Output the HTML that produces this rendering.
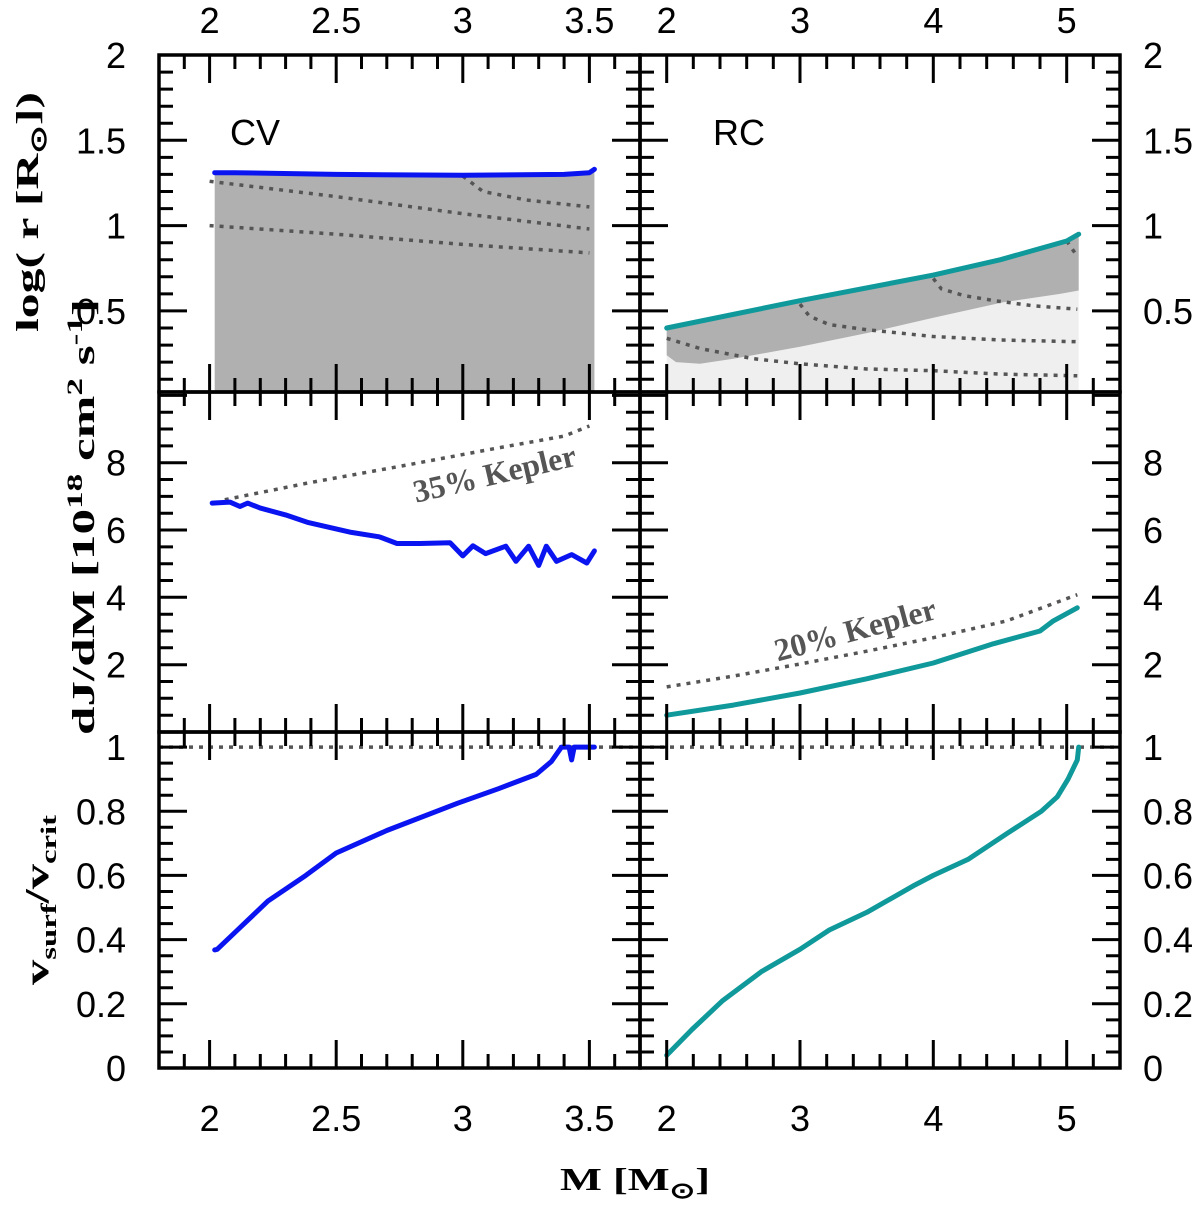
<!DOCTYPE html>
<html><head><meta charset="utf-8">
<style>
html,body{margin:0;padding:0;background:#fff;}
svg{display:block;}
.tl{font-family:"Liberation Sans",sans-serif;font-size:36px;fill:#000;}
.ti{font-family:"Liberation Serif",serif;font-weight:bold;fill:#000;}
</style></head>
<body>
<svg id="fig" width="1200" height="1205" viewBox="0 0 1200 1205" xmlns="http://www.w3.org/2000/svg">
<rect width="1200" height="1205" fill="#fff"/>
<g id="plots"></g>
<g id="frames"></g>
<text class="ti" transform="translate(38,212) rotate(-90)" text-anchor="middle" font-size="32" textLength="240" lengthAdjust="spacingAndGlyphs">log( r [R<tspan font-size="22" dy="8">⊙</tspan><tspan dy="-8">])</tspan></text>
<text class="ti" transform="translate(94,517) rotate(-90)" text-anchor="middle" font-size="32" textLength="436" lengthAdjust="spacingAndGlyphs">dJ/dM [10<tspan font-size="22" dy="-12">18</tspan><tspan dy="12"> cm</tspan><tspan font-size="22" dy="-12">2</tspan><tspan dy="12"> s</tspan><tspan font-size="22" dy="-12">-1</tspan><tspan dy="12">]</tspan></text>
<text class="ti" transform="translate(48,900) rotate(-90)" text-anchor="middle" font-size="34" textLength="170" lengthAdjust="spacingAndGlyphs">v<tspan font-size="22" dy="8">surf</tspan><tspan dy="-8">/v</tspan><tspan font-size="22" dy="8">crit</tspan></text>
<text class="ti" x="635" y="1190" text-anchor="middle" font-size="32" textLength="150" lengthAdjust="spacingAndGlyphs">M [M<tspan font-size="22" dy="8">⊙</tspan><tspan dy="-8">]</tspan></text>
<text class="tl" x="230" y="145" font-size="38">CV</text>
<text class="tl" x="713" y="145" font-size="38">RC</text>
<text class="ti" transform="translate(497,484) rotate(-13)" text-anchor="middle" font-size="32" style="fill:#555">35% Kepler</text>
<text class="ti" transform="translate(858,640) rotate(-15)" text-anchor="middle" font-size="32" style="fill:#555">20% Kepler</text>
</svg>
<script>
// ---- data ----
const cvRadiusX = [2.02, 2.1, 2.5, 3.0, 3.4, 3.5, 3.52];
const cvRadiusY = [1.31, 1.31, 1.30, 1.295, 1.30, 1.31, 1.33];
const cvDot1X = [2.0, 2.5, 3.0, 3.5];
const cvDot1Y = [1.26, 1.17, 1.07, 0.98];
const cvDot2X = [2.0, 2.5, 3.0, 3.5];
const cvDot2Y = [1.0, 0.95, 0.89, 0.84];
const cvDot3X = [3.0, 3.08, 3.25, 3.5];
const cvDot3Y = [1.29, 1.2, 1.15, 1.11];
const rcRadiusX = [2.0, 3.0, 4.0, 4.5, 5.0, 5.09];
const rcRadiusY = [0.40, 0.56, 0.71, 0.80, 0.91, 0.95];
const rcCoreX = [2.0, 2.07, 2.25, 2.5, 3.0, 3.5, 4.0, 4.52, 4.95, 5.09];
const rcCoreY = [0.24, 0.20, 0.19, 0.22, 0.29, 0.37, 0.46, 0.55, 0.60, 0.62];
const rcDot1X = [2.0, 2.25, 2.65, 3.0, 3.5, 4.0, 4.5, 5.08];
const rcDot1Y = [0.34, 0.28, 0.22, 0.19, 0.16, 0.15, 0.13, 0.12];
const rcDot2X = [3.0, 3.07, 3.22, 3.5, 4.0, 4.5, 5.08];
const rcDot2Y = [0.54, 0.47, 0.42, 0.39, 0.35, 0.33, 0.32];
const rcDot3X = [4.0, 4.06, 4.23, 4.46, 4.75, 5.08];
const rcDot3Y = [0.69, 0.63, 0.59, 0.56, 0.53, 0.51];
const rcDot4X = [5.0, 5.08];
const rcDot4Y = [0.91, 0.82];
const cvJX = [2.01,2.08,2.12,2.15,2.2,2.3,2.39,2.56,2.67,2.74,2.83,2.95,3.0,3.04,3.09,3.17,3.21,3.26,3.3,3.33,3.37,3.43,3.49,3.52];
const cvJY = [6.8,6.83,6.7,6.8,6.65,6.45,6.22,5.93,5.8,5.6,5.6,5.62,5.23,5.53,5.3,5.52,5.07,5.52,4.95,5.52,5.07,5.27,5.02,5.38];
const cvKepX = [2.06, 2.39, 2.75, 3.14, 3.40, 3.5];
const cvKepY = [6.9, 7.4, 7.89, 8.44, 8.79, 9.09];
const rcJX = [2.0, 2.5, 3.0, 3.5, 4.0, 4.45, 4.8, 4.9, 5.08];
const rcJY = [0.5, 0.8, 1.16, 1.58, 2.05, 2.62, 3.0, 3.3, 3.69];
const rcKepX = [2.0, 2.5, 3.0, 3.5, 4.0, 4.55, 5.08];
const rcKepY = [1.34, 1.66, 2.02, 2.4, 2.8, 3.3, 4.08];
const cvVX = [2.02,2.03,2.11,2.23,2.38,2.5,2.7,2.98,3.14,3.29,3.35,3.39,3.42,3.43,3.44,3.52];
const cvVY = [0.368,0.37,0.43,0.52,0.60,0.67,0.74,0.825,0.87,0.915,0.955,1.0,1.0,0.96,1.0,1.0];
const rcVX = [2.0,2.19,2.42,2.71,3.0,3.22,3.5,3.86,4.0,4.26,4.55,4.81,4.93,5.01,5.08,5.09];
const rcVY = [0.04,0.12,0.21,0.30,0.37,0.43,0.485,0.57,0.60,0.65,0.73,0.80,0.845,0.90,0.96,1.0];
const critLevel = [1.0];
// tick label arrays
const xTicksLeft = ["2","2.5","3","3.5"];
const xTicksRight = ["2","3","4","5"];
const yTicksTop = ["0.5","1","1.5","2"];
const yTicksMid = ["2","4","6","8"];
const yTicksBot = ["0","0.2","0.4","0.6","0.8","1"];

const NS = "http://www.w3.org/2000/svg";
const plots = document.getElementById('plots');
const frames = document.getElementById('frames');
function mk(tag, attrs, parent){const e=document.createElementNS(NS,tag);for(const k in attrs)e.setAttribute(k,attrs[k]);(parent||plots).appendChild(e);return e;}

function Panel(x0,x1,y0,y1,xmin,xmax,ymin,ymax){
  return {x0,x1,y0,y1,
    sx:v=>x0+(v-xmin)/(xmax-xmin)*(x1-x0),
    sy:v=>y1-(v-ymin)/(ymax-ymin)*(y1-y0),
    xmin,xmax,ymin,ymax};
}
const TL=Panel(159,640,55,392,1.8,3.7,0.025,2);
const ML=Panel(159,640,392,732,1.8,3.7,0,10.1);
const BL=Panel(159,640,732,1068,1.8,3.7,0,1.047);
const TR=Panel(640,1120,55,392,1.8,5.4,0.025,2);
const MR=Panel(640,1120,392,732,1.8,5.4,0,10.1);
const BR=Panel(640,1120,732,1068,1.8,5.4,0,1.047);

function pts(p,xs,ys){return xs.map((x,i)=>p.sx(x).toFixed(1)+','+p.sy(ys[i]).toFixed(1)).join(' ');}
function line(p,xs,ys,color,w,name,dash){
  const e=mk('polyline',{points:pts(p,xs,ys),fill:'none',stroke:color,'stroke-width':w,'stroke-linejoin':'round','stroke-linecap':dash?'butt':'round'});
  if(dash)e.setAttribute('stroke-dasharray',dash);
  
  
  return e;
}
function fillArea(p,xs,ys,baseXs,baseYs,color,name){
  const top=pts(p,xs,ys);
  const bx=baseXs.slice().reverse(), by=baseYs.slice().reverse();
  const e=mk('polygon',{points:top+' '+pts(p,bx,by),fill:color,stroke:'none'});
  
  
}
const BLUE='#0a14f0', TEAL='#10999a', DOT='#555', DASH='4 6';

fillArea(TL,cvRadiusX,cvRadiusY,[cvRadiusX[0],cvRadiusX[cvRadiusX.length-1]],[TL.ymin,TL.ymin],'#b0b0b0','cv-envelope-fill');
line(TL,cvDot1X,cvDot1Y,DOT,3.5,'cv-dotted-1',DASH);
line(TL,cvDot2X,cvDot2Y,DOT,3.5,'cv-dotted-2',DASH);
line(TL,cvDot3X,cvDot3Y,DOT,3.5,'cv-dotted-3',DASH);
line(TL,cvRadiusX,cvRadiusY,BLUE,5,'cv-radius-line');
fillArea(TR,rcRadiusX,rcRadiusY,[rcRadiusX[0],rcRadiusX[rcRadiusX.length-1]],[TR.ymin,TR.ymin],'#efefef','rc-envelope-fill');
fillArea(TR,rcRadiusX,rcRadiusY,rcCoreX,rcCoreY,'#b0b0b0','rc-shell-fill');
line(TR,rcDot1X,rcDot1Y,DOT,3.5,'rc-dotted-1',DASH);
line(TR,rcDot2X,rcDot2Y,DOT,3.5,'rc-dotted-2',DASH);
line(TR,rcDot3X,rcDot3Y,DOT,3.5,'rc-dotted-3',DASH);
line(TR,rcDot4X,rcDot4Y,DOT,3.5,'rc-dotted-4',DASH);
line(TR,rcRadiusX,rcRadiusY,TEAL,5,'rc-radius-line');
line(ML,cvKepX,cvKepY,DOT,3.5,'cv-kepler-line',DASH);
line(ML,cvJX,cvJY,BLUE,5,'cv-djdm-line');
line(MR,rcKepX,rcKepY,DOT,3.5,'rc-kepler-line',DASH);
line(MR,rcJX,rcJY,TEAL,5,'rc-djdm-line');
line(BL,[BL.xmin,BL.xmax],[critLevel[0],critLevel[0]],DOT,3.5,'cv-critical-line',DASH);
line(BR,[BR.xmin,BR.xmax],[critLevel[0],critLevel[0]],DOT,3.5,'rc-critical-line',DASH);
line(BL,cvVX,cvVY,BLUE,5,'cv-vratio-line');
line(BR,rcVX,rcVY,TEAL,5,'rc-vratio-line');

function ticks(p,xMaj,xMin,yMaj,yMin,name){
  const g=mk('g',{},frames);
  
  
  let d='';
  const ML_=28, MN=14;
  const eps=1e-6;
  for(let v=Math.ceil(p.xmin/xMin-eps)*xMin; v<=p.xmax+eps; v+=xMin){
    const maj=Math.abs(v/xMaj-Math.round(v/xMaj))<1e-4; const L=maj?ML_:MN; const x=p.sx(v).toFixed(1);
    d+=`M${x},${p.y1}v${-L}M${x},${p.y0}v${L}`;
  }
  for(let v=Math.ceil(p.ymin/yMin-eps)*yMin; v<=p.ymax+eps; v+=yMin){
    const maj=Math.abs(v/yMaj-Math.round(v/yMaj))<1e-4; const L=maj?ML_:MN; const y=p.sy(v).toFixed(1);
    d+=`M${p.x0},${y}h${L}M${p.x1},${y}h${-L}`;
  }
  mk('path',{d:d,stroke:'#000','stroke-width':3,fill:'none'},g);
  mk('rect',{x:p.x0,y:p.y0,width:p.x1-p.x0,height:p.y1-p.y0,fill:'none',stroke:'#000','stroke-width':3.5},g);
}
ticks(TL,0.5,0.1,0.5,0.1,'panel-cv-radius');
ticks(ML,0.5,0.1,2,0.5,'panel-cv-djdm');
ticks(BL,0.5,0.1,0.2,0.05,'panel-cv-vratio');
ticks(TR,1,0.2,0.5,0.1,'panel-rc-radius');
ticks(MR,1,0.2,2,0.5,'panel-rc-djdm');
ticks(BR,1,0.2,0.2,0.05,'panel-rc-vratio');

function label(x,y,txt,anchor,name){
  const t=mk('text',{x:x,y:y,'text-anchor':anchor,class:'tl'},frames);
  t.textContent=txt;
  
  
}
xTicksLeft.forEach(s=>{const v=parseFloat(s);label(TL.sx(v),33,s,'middle','x-tick-top-left');label(BL.sx(v),1131,s,'middle','x-tick-bottom-left');});
xTicksRight.forEach(s=>{const v=parseFloat(s);label(TR.sx(v),33,s,'middle','x-tick-top-right');label(BR.sx(v),1131,s,'middle','x-tick-bottom-right');});
yTicksTop.forEach(s=>{const v=parseFloat(s);label(126,TL.sy(v)+13,s,'end','y-tick-top-left');label(1143,TR.sy(v)+13,s,'start','y-tick-top-right');});
yTicksMid.forEach(s=>{const v=parseFloat(s);label(126,ML.sy(v)+13,s,'end','y-tick-mid-left');label(1143,MR.sy(v)+13,s,'start','y-tick-mid-right');});
yTicksBot.forEach(s=>{const v=parseFloat(s);label(126,BL.sy(v)+13,s,'end','y-tick-bottom-left');label(1143,BR.sy(v)+13,s,'start','y-tick-bottom-right');});
</script>
</body></html>
